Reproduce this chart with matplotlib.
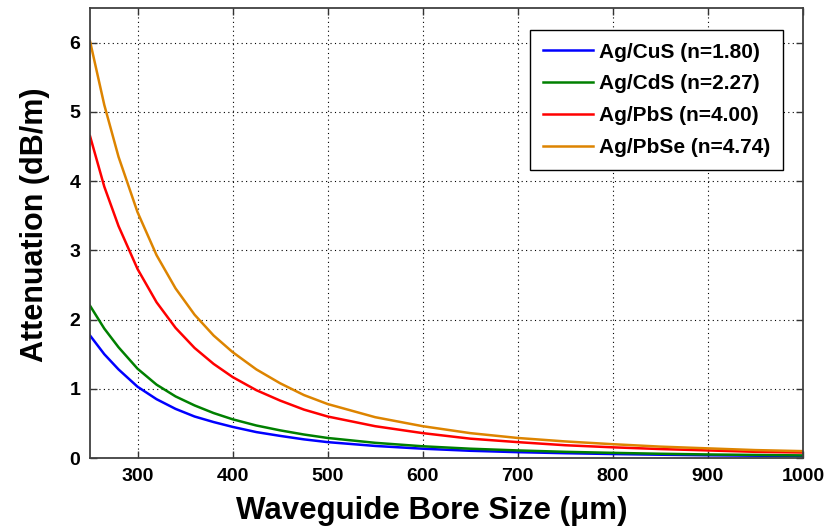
import numpy as np
import matplotlib
matplotlib.use("Agg")
import matplotlib.pyplot as plt

# bore size (um) and attenuation (dB/m) for each coating
bore = [250, 265, 280, 300, 320, 340, 360, 380, 400, 425, 450, 475, 500,
        550, 600, 650, 700, 750, 800, 850, 900, 950, 1000]
att_cus = [1.77, 1.50, 1.28, 1.03, 0.85, 0.71, 0.60, 0.52, 0.45, 0.375, 0.32, 0.27, 0.23,
           0.175, 0.135, 0.105, 0.085, 0.070, 0.058, 0.048, 0.040, 0.034, 0.029]
att_cds = [2.20, 1.87, 1.60, 1.29, 1.06, 0.89, 0.76, 0.65, 0.56, 0.47, 0.40, 0.34, 0.29,
           0.22, 0.17, 0.135, 0.110, 0.090, 0.075, 0.062, 0.052, 0.045, 0.038]
att_pbs = [4.65, 3.92, 3.35, 2.73, 2.25, 1.88, 1.59, 1.36, 1.17, 0.98, 0.83, 0.70, 0.60,
           0.46, 0.36, 0.28, 0.23, 0.185, 0.155, 0.13, 0.11, 0.09, 0.08]
att_pbse = [6.02, 5.10, 4.35, 3.55, 2.93, 2.45, 2.07, 1.77, 1.53, 1.28, 1.08, 0.91, 0.78,
            0.59, 0.46, 0.36, 0.29, 0.24, 0.20, 0.165, 0.14, 0.115, 0.10]
labels = ["Ag/CuS (n=1.80)", "Ag/CdS (n=2.27)", "Ag/PbS (n=4.00)", "Ag/PbSe (n=4.74)"]
colors = ["#0000FF", "#008000", "#FF0000", "#DD8400"]

plt.rcParams['font.family'] = ['Liberation Sans', 'DejaVu Sans']
plt.rcParams['font.weight'] = 'bold'

fig = plt.figure(figsize=(8.39, 5.32), dpi=100)
ax = fig.add_axes([0.1073, 0.139, 0.8497, 0.846])

for y, lab, c in zip([att_cus, att_cds, att_pbs, att_pbse], labels, colors):
    ax.plot(bore, y, color=c, linewidth=1.8, label=lab)

ax.set_xlim(250, 1000)
ax.set_ylim(0, 6.5)
ax.set_xticks([300, 400, 500, 600, 700, 800, 900, 1000])
ax.set_yticks([0, 1, 2, 3, 4, 5, 6])
ax.grid(True, color='black', linestyle=(0, (1, 3)), linewidth=0.8)
ax.tick_params(direction='in', top=True, right=True, length=5, width=1,
               labelsize=14, colors='#333333', labelcolor='black', pad=7)
for lab in ax.get_xticklabels() + ax.get_yticklabels():
    lab.set_fontweight('bold')
for sp in ax.spines.values():
    sp.set_color('#404040')
    sp.set_linewidth(1.3)

ax.set_xlabel("Waveguide Bore Size (\u03bcm)", fontsize=22.5, fontweight='bold')
ax.set_ylabel("Attenuation (dB/m)", fontsize=22, fontweight='bold')
ax.xaxis.set_label_coords(0.479, -0.084, transform=ax.transAxes)
ax.yaxis.set_label_coords(-0.056, 0.519, transform=ax.transAxes)

leg = ax.legend(loc='upper right', bbox_to_anchor=(0.972, 0.951), borderaxespad=0,
                fancybox=False, framealpha=1, edgecolor='black',
                prop={'size': 15, 'weight': 'bold'}, handlelength=2.4,
                handletextpad=0.3, labelspacing=0.62, borderpad=0.6)
leg.get_frame().set_linewidth(1.0)

fig.savefig("out.png", dpi=100)
